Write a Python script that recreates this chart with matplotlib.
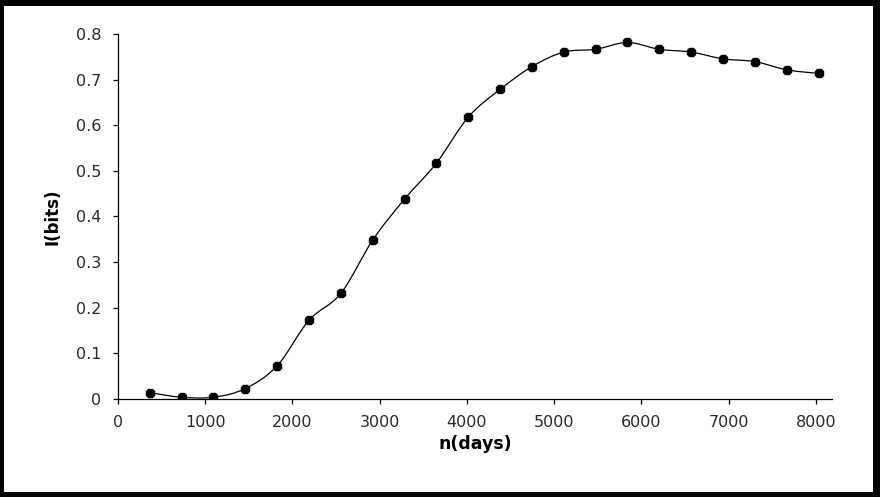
import numpy as np
import matplotlib.pyplot as plt
from matplotlib.path import Path
from matplotlib.patches import PathPatch, Rectangle

plt.rcParams['font.family'] = ['DejaVu Sans']

# data (one point per year of days)
n_days = [365 * k for k in range(1, 23)]
info_bits = [0.013, 0.003, 0.003, 0.022, 0.072, 0.172, 0.231, 0.348, 0.438, 0.517, 0.618,
             0.679, 0.729, 0.761, 0.767, 0.782, 0.767, 0.761, 0.746, 0.740, 0.722, 0.714]

x_ticks = np.arange(0, 8001, 1000)
y_ticks = np.arange(0, 0.81, 0.1)


def smooth_path(x, y):
    # Catmull-Rom style bezier, like the excel "smoothed line"
    p = np.column_stack([x, y]).astype(float)
    p_ext = np.vstack([p[0], p, p[-1]])
    verts = [p[0]]
    codes = [Path.MOVETO]
    for i in range(len(p) - 1):
        p0, p1, p2, p3 = p_ext[i], p_ext[i + 1], p_ext[i + 2], p_ext[i + 3]
        c1 = p1 + (p2 - p0) / 6
        c2 = p2 - (p3 - p1) / 6
        verts += [c1, c2, p2]
        codes += [Path.CURVE4] * 3
    return Path(verts, codes)


fig = plt.figure(figsize=(8.8, 4.97), dpi=100)
ax = fig.add_axes([0.134, 0.198, 0.812, 0.733])

ax.add_patch(PathPatch(smooth_path(n_days, info_bits), fc='none', ec='black', lw=0.9))
ax.plot(n_days, info_bits, ls='none', marker='8', ms=6.8, color='black')

ax.set_xlim(0, 8190)
ax.set_ylim(0, 0.8)
ax.set_xticks(x_ticks)
ax.set_yticks(y_ticks)
ax.set_yticklabels(['%g' % round(v, 1) for v in y_ticks])
ax.tick_params(direction='out', length=3.6, width=0.9, labelsize=11.5,
               labelcolor='#2a2a2a', pad=8.5)
for s in ['top', 'right']:
    ax.spines[s].set_visible(False)
for s in ['left', 'bottom']:
    ax.spines[s].set_linewidth(0.9)

ax.set_xlabel('n(days)', fontsize=12.5, fontweight='bold', labelpad=3)
ax.set_ylabel('I(bits)', fontsize=12, fontweight='bold', labelpad=10)

# thick black frame around the whole picture
W, H = 880, 497
for (x0, y0, w, h) in [(0, 0, 4, H), (W - 7, 0, 7, H), (0, H - 6, W, 6), (0, 0, W, 5)]:
    fig.add_artist(Rectangle((x0 / W, y0 / H), w / W, h / H, transform=fig.transFigure,
                             color='black', lw=0))

fig.savefig('out.png', dpi=100)
